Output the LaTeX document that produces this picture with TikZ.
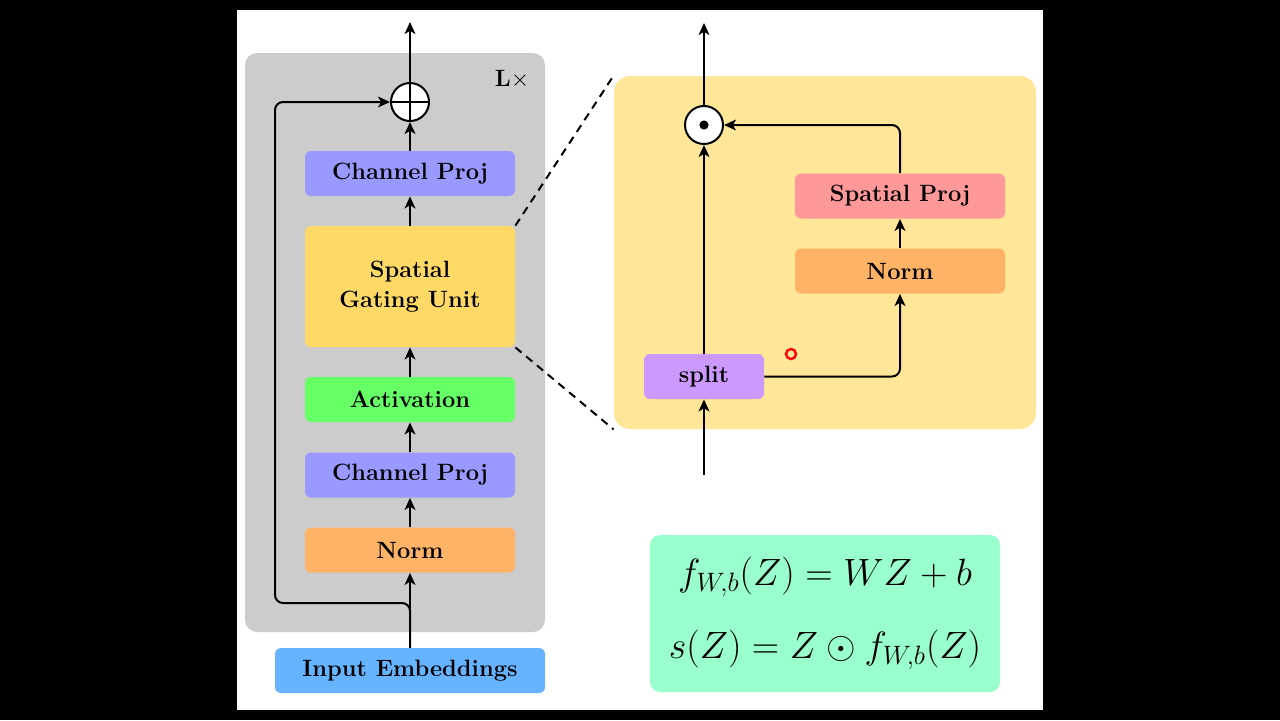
\RequirePackage{fix-cm}
\documentclass[tikz,border=0pt]{standalone}
\usepackage{amsmath,amssymb}
\usepackage{tikz}
\usetikzlibrary{arrows.meta}
\definecolor{layergray}{HTML}{CCCCCC}
\definecolor{projblue}{HTML}{9999FF}
\definecolor{sguyellow}{HTML}{FFD966}
\definecolor{actgreen}{HTML}{66FF66}
\definecolor{normorange}{HTML}{FFB366}
\definecolor{inpblue}{HTML}{66B3FF}
\definecolor{gateback}{HTML}{FFE699}
\definecolor{splitpurple}{HTML}{CC99FF}
\definecolor{sprojred}{HTML}{FF9999}
\definecolor{eqmint}{HTML}{99FFCC}
\tikzset{
  blk/.style={rounded corners=3pt, minimum width=105pt, minimum height=22.5pt, inner sep=0pt,
    font=\fontsize{11.8}{14}\selectfont\bfseries},
  opnode/.style={circle, draw, line width=1pt, fill=white, minimum size=19pt, inner sep=0pt},
  conn/.style={->, line width=1pt, rounded corners=4pt}
}

\begin{document}
\begin{tikzpicture}[>={Stealth[length=6pt,width=5.4pt,inset=1.6pt]},x=0.5pt,y=-0.5pt]
\useasboundingbox (0,0) rectangle (1280,720);
\fill[black] (0,0) rectangle (1280,720);
\fill[white] (237,10) rectangle (1043,710);
\fill[layergray, rounded corners=6pt] (245,53) rectangle (545,632);
\node[font=\fontsize{11.8}{14}\selectfont] (rep) at (512,79) {\textbf{L}$\times$};
\node[opnode, path picture={\draw[black, line width=1pt] (path picture bounding box.north) -- (path picture bounding box.south) (path picture bounding box.west) -- (path picture bounding box.east);}] (add) at (410,102) {};
\node[blk, fill=projblue] (cpa) at (410,173.5) {Channel Proj};
\node[blk, fill=sguyellow, minimum height=60.5pt, align=center] (sgu) at (410,286.5) {Spatial\\[1pt]Gating Unit};
\node[blk, fill=actgreen] (act) at (410,399.5) {Activation};
\node[blk, fill=projblue] (cpb) at (410,475) {Channel Proj};
\node[blk, fill=normorange] (norma) at (410,550) {Norm};
\node[blk, fill=inpblue, minimum width=135pt] (inp) at (410,670.5) {Input Embeddings};
\coordinate (outa) at (410,22);
\coordinate (bra) at (410,603);
\coordinate (brb) at (275,603);
\coordinate (brc) at (275,102);
\draw[conn] (inp.north) -- (norma.south);
\draw[conn] (norma.north) -- (cpb.south);
\draw[conn] (cpb.north) -- (act.south);
\draw[conn] (act.north) -- (sgu.south);
\draw[conn] (sgu.north) -- (cpa.south);
\draw[conn] (cpa.north) -- (add.south);
\draw[conn] (add.north) -- (outa);
\draw[conn] (inp.north) -- (bra) -- (brb) -- (brc) -- (add.west);
\node[fill=gateback, rounded corners=8pt, minimum width=211pt, minimum height=176.5pt, inner sep=0pt] (gate) at (825,252.5) {};
\draw[dashed, line width=1pt, dash pattern=on 4pt off 3pt] (sgu.north east) -- (gate.north west);
\draw[dashed, line width=1pt, dash pattern=on 4pt off 3pt] (sgu.south east) -- (gate.south west);
\node[opnode, path picture={\fill[black] (path picture bounding box.center) circle (2.3pt);}] (mul) at (704,125) {};
\node[blk, fill=splitpurple, minimum width=60pt] (split) at (704,376.5) {split};
\node[blk, fill=normorange] (normb) at (900,271) {Norm};
\node[blk, fill=sprojred] (sproj) at (900,196) {Spatial Proj};
\coordinate (outb) at (704,23);
\coordinate (inb) at (704,475);
\draw[conn] (inb) -- (split.south);
\draw[conn] (split.north) -- (mul.south);
\draw[conn] (mul.north) -- (outb);
\draw[conn] (split.east) -| (normb.south);
\draw[conn] (normb.north) -- (sproj.south);
\draw[conn] (sproj.north) |- (mul.east);
\draw[red, line width=1.2pt] (791,354) circle (2.5pt);
\node[fill=eqmint, rounded corners=5pt, minimum width=175pt, minimum height=78.5pt, inner sep=0pt] (eq) at (825,613.5) {};
\node[font=\fontsize{19}{22}\selectfont] (eqa) at (825,577) {$f_{W,b}(Z) = WZ + b$};
\node[font=\fontsize{19}{22}\selectfont] (eqb) at (825,650) {$s(Z) = Z \odot f_{W,b}(Z)$};
\end{tikzpicture}
\end{document}
